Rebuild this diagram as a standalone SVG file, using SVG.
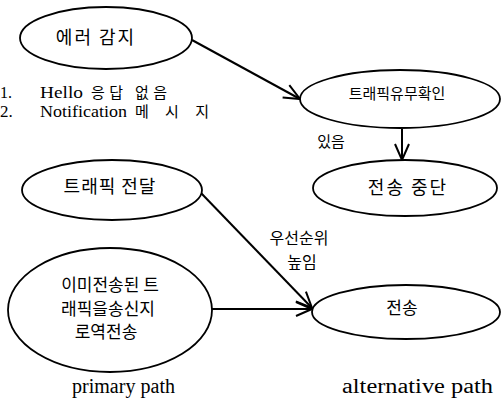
<svg xmlns="http://www.w3.org/2000/svg" width="501" height="402" viewBox="0 0 501 402">
<style>
.n{fill:#fff;stroke:#000;stroke-width:1.8}
.k{font-family:"Noto Sans CJK KR",sans-serif;fill:#000;text-anchor:middle}
.s{font-family:"Liberation Serif","Noto Sans CJK KR",serif;fill:#000}
.c{stroke:#000;stroke-width:2;fill:none}
</style>
<defs>
<marker id="a" viewBox="0 0 20 20" refX="18" refY="10" markerWidth="20" markerHeight="20" markerUnits="userSpaceOnUse" orient="auto">
<polyline points="2,3 18,10 2,17" fill="none" stroke="#000" stroke-width="2"/>
</marker>
</defs>
<g id="connectors">
<line class="c" x1="192" y1="40" x2="300" y2="99" marker-end="url(#a)"/>
<line class="c" x1="402" y1="129" x2="402" y2="160" marker-end="url(#a)"/>
<line class="c" x1="201" y1="193" x2="312" y2="308" marker-end="url(#a)"/>
<line class="c" x1="212" y1="309" x2="312" y2="309" marker-end="url(#a)"/>
<text class="k" x="331" y="147" font-size="15">있음</text>
<text class="k" x="299" y="244" font-size="16">우선순위</text>
<text class="k" x="302" y="268" font-size="16">높임</text>
</g>
<g id="n1"><ellipse class="n" cx="106" cy="38" rx="86" ry="31"/><text class="k" x="96" y="44" font-size="18" letter-spacing="2">에러 감지</text></g>
<g id="n2"><ellipse class="n" cx="400" cy="99" rx="100" ry="29"/><text class="k" x="397" y="99" font-size="15">트래픽유무확인</text></g>
<g id="n3"><ellipse class="n" cx="405" cy="188" rx="92" ry="28"/><text class="k" x="408" y="194" font-size="18" letter-spacing="2">전송 중단</text></g>
<g id="n4"><ellipse class="n" cx="112" cy="190" rx="90" ry="30"/><text class="k" x="110" y="193" font-size="18" letter-spacing="1">트래픽 전달</text></g>
<g id="n5"><ellipse class="n" cx="110" cy="310" rx="102" ry="62"/>
<text class="k" x="110" y="291" font-size="17">이미전송된 트</text>
<text class="k" x="108" y="315" font-size="17">래픽을송신지</text>
<text class="k" x="106" y="338" font-size="17">로역전송</text></g>
<g id="n6"><ellipse class="n" cx="406" cy="312" rx="94" ry="27"/><text class="k" x="402" y="314" font-size="17">전송</text></g>
<text class="s" x="0" y="98" font-size="16">1.</text>
<text class="s" x="40" y="98" font-size="17" textLength="43" lengthAdjust="spacingAndGlyphs">Hello</text>
<text class="k" x="129" y="98" font-size="15" textLength="76" text-anchor="middle">응답 없음</text>
<text class="s" x="0" y="117" font-size="17">2.</text>
<text class="s" x="40" y="117" font-size="17" textLength="87" lengthAdjust="spacingAndGlyphs">Notification</text>
<text class="k" x="172" y="117" font-size="15" textLength="74" text-anchor="middle">메시지</text>
<text class="s" x="72" y="393" font-size="20" textLength="103" lengthAdjust="spacingAndGlyphs">primary path</text>
<text class="s" x="342" y="393" font-size="20" textLength="151" lengthAdjust="spacingAndGlyphs">alternative path</text>
</svg>
